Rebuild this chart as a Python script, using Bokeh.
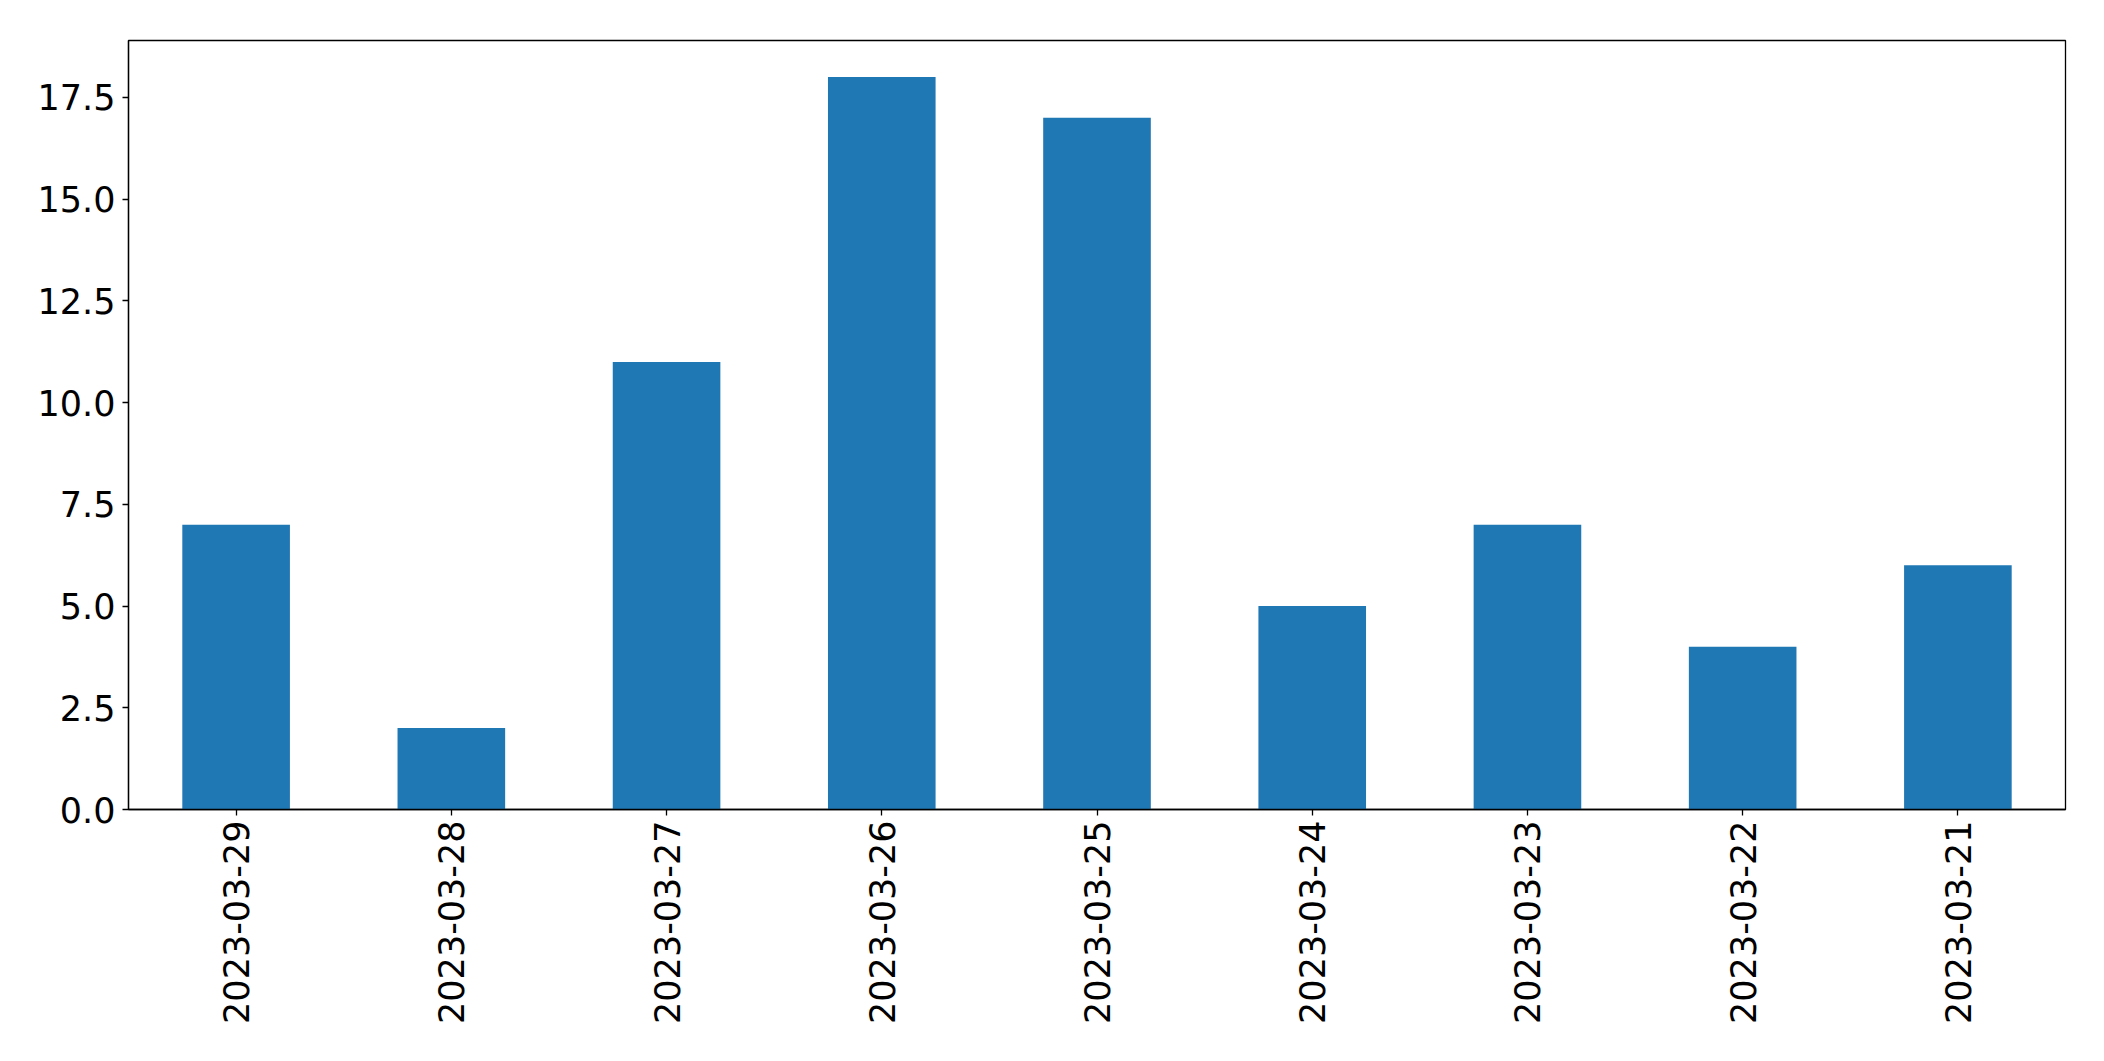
import math
from bokeh.plotting import figure
from bokeh.models import FactorRange, Range1d, FixedTicker, NumeralTickFormatter, ColumnDataSource
from bokeh.embed import file_html
from bokeh.resources import INLINE

dates = ["2023-03-29", "2023-03-28", "2023-03-27", "2023-03-26", "2023-03-25",
         "2023-03-24", "2023-03-23", "2023-03-22", "2023-03-21"]
counts = [7, 2, 11, 18, 17, 5, 7, 4, 6]
y_ticks = [0, 2.5, 5, 7.5, 10, 12.5, 15, 17.5]

src = ColumnDataSource(dict(date=dates, count=counts))

p = figure(x_range=FactorRange(*dates, range_padding=0),
           y_range=Range1d(0, 18.9),
           width=2096, height=1052,
           output_backend="svg", toolbar_location=None,
           min_border_left=128, min_border_right=31,
           min_border_top=40, min_border_bottom=243)

p.vbar(x="date", top="count", width=0.5, source=src,
       fill_color="#1f77b4", line_color=None)

p.xgrid.visible = False
p.ygrid.visible = False
p.outline_line_color = "black"
p.outline_line_width = 1.3
p.background_fill_color = "white"
p.border_fill_color = "white"

for ax in (p.xaxis[0], p.yaxis[0]):
    ax.axis_line_color = "black"
    ax.axis_line_width = 1.3
    ax.major_tick_line_color = "black"
    ax.major_tick_line_width = 1.3
    ax.major_tick_out = 6
    ax.major_tick_in = 0
    ax.minor_tick_line_color = None
    ax.major_label_text_font = "DejaVu Sans"
    ax.major_label_text_font_size = "35px"
    ax.major_label_text_color = "black"

p.yaxis.ticker = FixedTicker(ticks=y_ticks)
p.yaxis.formatter = NumeralTickFormatter(format="0.0")
p.yaxis.major_label_standoff = 7
p.xaxis.major_label_orientation = math.pi / 2
p.xaxis.major_label_standoff = 5

open("out.html", "w").write(file_html(p, INLINE))
